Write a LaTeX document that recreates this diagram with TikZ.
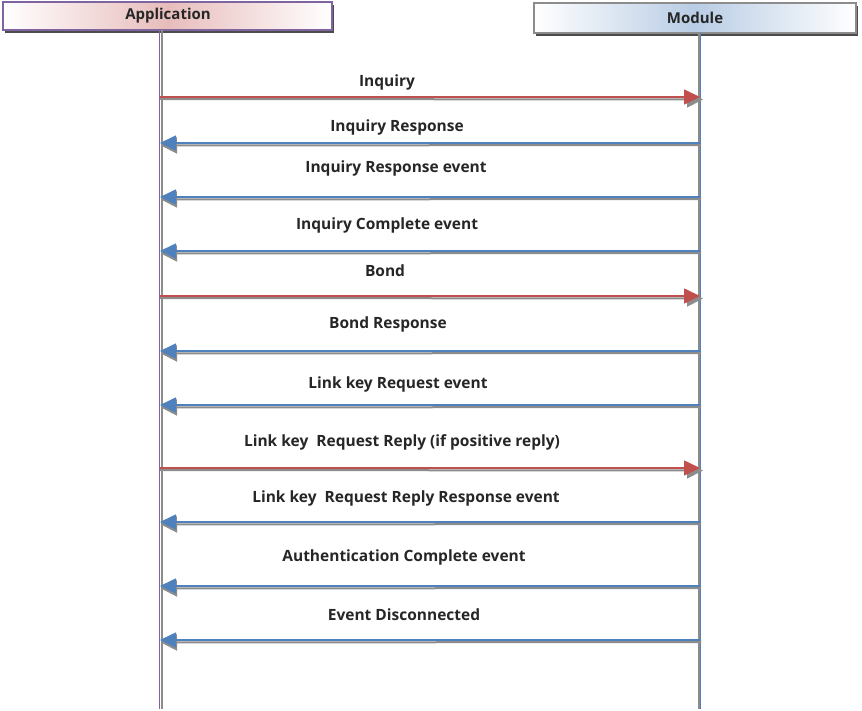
\documentclass[tikz,border=0pt]{standalone}
\usepackage{fontspec}
\setmainfont{Open Sans}
\usetikzlibrary{arrows.meta}
\definecolor{redA}{HTML}{C0504D}
\definecolor{blueA}{HTML}{4F81BD}
\definecolor{purp}{HTML}{8064A2}
\definecolor{shad}{HTML}{8C8C8C}
\tikzset{
  lbl/.style={font=\bfseries\fontsize{15.5}{17}\selectfont, text=black!85, inner sep=0pt},
  hdr/.style={font=\bfseries\fontsize{15}{17}\selectfont, text=black!85, inner sep=0pt},
  msgshadow/.style={draw=shad, line width=2pt, -{Triangle[length=16pt,width=16pt]}, shorten >=-1pt},
  redmsg/.style={draw=redA, line width=1.6pt, -{Triangle[length=16pt,width=15pt, fill=redA]}},
  bluemsg/.style={draw=blueA, line width=1.6pt, -{Triangle[length=16pt,width=15pt, fill=blueA]}},
}
\begin{document}
\begin{tikzpicture}[x=1pt,y=-1pt]
\useasboundingbox[fill=white] (0,0) rectangle (862,711);
% header boxes
\fill[black!70] (5,5) rectangle (334,33);
\shade[left color=white, right color=white, middle color=redA!38] (3,2) rectangle (332,30);
\draw[purp, line width=1.4pt] (3,2) rectangle (332,30);
\node[hdr] (app) at (168,16) {Application};
\fill[black!70] (536,6) rectangle (858,36);
\shade[left color=white, right color=white, middle color=blueA!40] (534,3) rectangle (856,33);
\draw[black!45, line width=1.4pt] (534,3) rectangle (856,33);
\node[hdr] (mod) at (695,18) {Module};
% lifelines
\coordinate (aTop) at (160,30);
\coordinate (aBot) at (160,709);
\coordinate (mTop) at (700,33);
\coordinate (mBot) at (700,709);
\draw[shad, line width=2pt] ([xshift=1.5pt]aTop) -- ([xshift=1.5pt]aBot);
\draw[purp, line width=1.2pt] ([xshift=-0.5pt]aTop) -- ([xshift=-0.5pt]aBot);
\draw[shad, line width=2pt] ([xshift=-1pt]mTop) -- ([xshift=-1pt]mBot);
\draw[blueA, line width=1.2pt] ([xshift=0.8pt]mTop) -- ([xshift=0.8pt]mBot);
% messages
\foreach \y/\ly/\lx/\t/\d [count=\i] in {
  97/82/387/Inquiry/r,
  143/127/397/Inquiry Response/l,
  197/168/396/Inquiry Response event/l,
  251/225/387/Inquiry Complete event/l,
  296/271/385/Bond/r,
  351/324/388/Bond Response/l,
  405/384/398/Link key Request event/l,
  468/442/402/{Link key\ \ Request Reply (if positive reply)}/r,
  522/498/406/{Link key\ \ Request Reply Response event}/l,
  586/557/404/Authentication Complete event/l,
  640/615/404/Event Disconnected/l}{
  \coordinate (a\i) at (160,\y);
  \coordinate (m\i) at (700,\y);
  \node[lbl] (t\i) at (\lx,\ly) {\t};
  \if r\d
    \draw[msgshadow] ([shift={(0,2)}]a\i) -- ([shift={(2,2.5)}]m\i);
    \draw[redmsg] (a\i) -- (m\i);
  \else
    \draw[msgshadow] ([shift={(1,2)}]m\i) -- ([shift={(2,2.5)}]a\i);
    \draw[bluemsg] (m\i) -- (a\i);
  \fi
}
\end{tikzpicture}
\end{document}
